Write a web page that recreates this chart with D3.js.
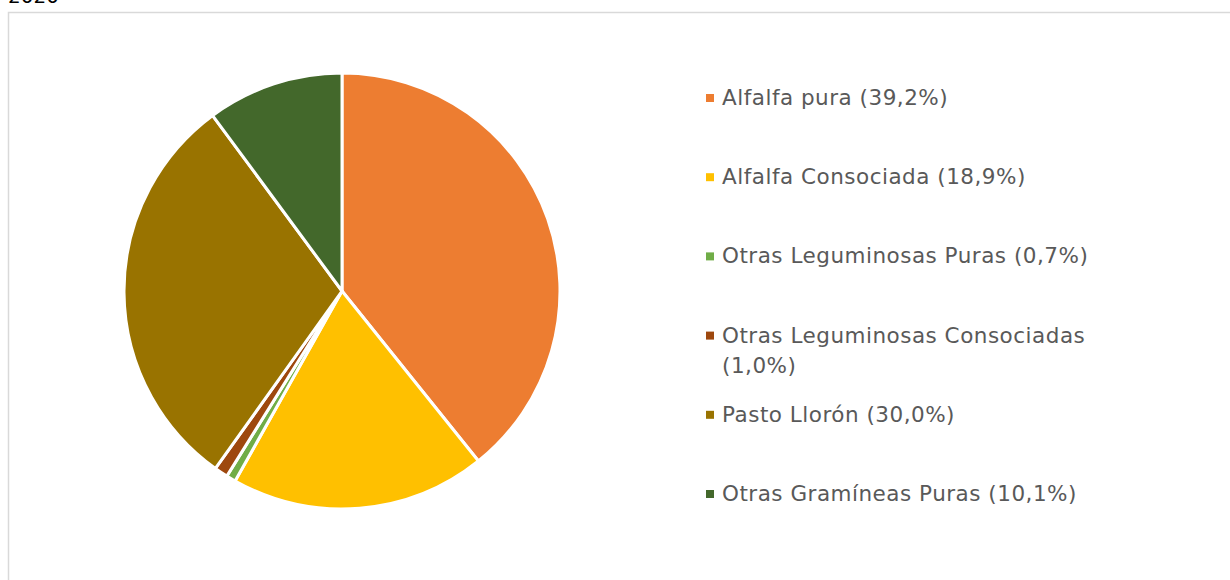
<!DOCTYPE html>
<html>
<head>
<meta charset="utf-8">
<script src="https://cdn.jsdelivr.net/npm/d3@7"></script>
<style>
  body { margin: 0; background: #fff; }
  svg { display: block; }
</style>
</head>
<body>
<svg id="chart" width="1230" height="580"></svg>
<script>
// datos del grafico
const labels = ["Alfalfa pura (39,2%)", "Alfalfa Consociada (18,9%)", "Otras Leguminosas Puras (0,7%)",
  "Otras Leguminosas Consociadas (1,0%)", "Pasto Llorón (30,0%)", "Otras Gramíneas Puras (10,1%)"]
const values = [39.2, 18.9, 0.7, 1.0, 30.0, 10.1]
const colors = ["#ed7d31", "#ffc000", "#70ad47", "#9e480e", "#997300", "#43682b"]

const svg = d3.select("#chart")
const font = "'DejaVu Sans', sans-serif"

// titulo cortado arriba
svg.append("text")
   .attr("x", 8).attr("y", 3)
   .attr("font-family", font).attr("font-size", 20)
   .attr("fill", "#000")
   .text("2020")

// borde del area del grafico
svg.append("rect")
   .attr("x", 8.5).attr("y", 12.5)
   .attr("width", 1300).attr("height", 700)
   .attr("fill", "none")
   .attr("stroke", "#d9d9d9")
   .attr("stroke-width", 1.5)

const cx = 342, cy = 291, r = 218

const pie = d3.pie().sort(null).value(d => d)
const arc = d3.arc().innerRadius(0).outerRadius(r)

svg.append("g")
   .attr("transform", "translate(" + cx + "," + cy + ")")
   .selectAll("path")
   .data(pie(values))
   .enter()
   .append("path")
   .attr("d", arc)
   .attr("fill", (d, i) => colors[i])
   .attr("stroke", "#fff")
   .attr("stroke-width", 3)
   .attr("stroke-linejoin", "round")

// leyenda
const legendY = d3.scalePoint().domain(d3.range(labels.length)).range([98, 494])
const legend = svg.append("g")
const maxW = 400

labels.forEach((lab, i) => {
  const y = legendY(i)
  legend.append("rect")
        .attr("x", 706).attr("y", y - 4)
        .attr("width", 8).attr("height", 8)
        .attr("fill", colors[i])
  const t = legend.append("text")
        .attr("x", 722).attr("y", y + 7)
        .attr("font-family", font).attr("font-size", 21.5)
        .attr("letter-spacing", 0.5)
        .attr("fill", "#595959")
  // partir en dos lineas si es muy largo
  const words = lab.split(" ")
  let line = [], tspan = t.append("tspan").attr("x", 722)
  words.forEach(w => {
    line.push(w)
    tspan.text(line.join(" "))
    if (tspan.node().getComputedTextLength() > maxW && line.length > 1) {
      line.pop()
      tspan.text(line.join(" "))
      line = [w]
      tspan = t.append("tspan").attr("x", 722).attr("dy", 30).text(w)
    }
  })
})
</script>
</body>
</html>
